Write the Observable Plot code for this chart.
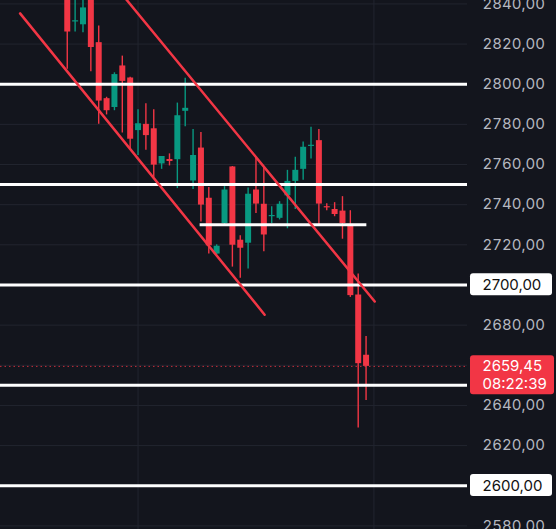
<!DOCTYPE html>
<html>
<head>
<meta charset="utf-8">
<script src="https://cdn.jsdelivr.net/npm/d3@7"></script>
<script src="https://cdn.jsdelivr.net/npm/@observablehq/plot@0.6"></script>
<style>
  html, body { margin: 0; padding: 0; background: #13151d; overflow: hidden; }
</style>
</head>
<body>
<script>
// ---- data (candle index 0..38) ----
const opens  = [2850, 2831, 2829.6, 2842, 2820.7, 2792.8, 2788.4, 2809.1, 2803.1, 2776.9, 2780, 2777.8, 2760.3, 2762.5, 2762.4, 2786.5, 2751.8, 2768.2, 2743.2, 2715.4, 2730.6, 2758.8, 2722.3, 2720.8, 2747.3, 2740.2, 2734, 2733.2, 2744.4, 2751.6, 2757.6, 2769, 2771.9, 2739, 2737.6, 2736.8, 2730.2, 2695, 2665];
const highs  = [2856, 2845, 2842.5, 2846, 2829, 2793.5, 2805.7, 2814, 2803.5, 2787.3, 2790.3, 2787.3, 2764, 2765.3, 2790.6, 2803, 2777.5, 2776, 2748.6, 2720, 2749, 2759, 2724.5, 2748.3, 2763.2, 2758.5, 2739, 2741.5, 2757.1, 2763.6, 2771.2, 2778.6, 2777.4, 2740.5, 2741, 2744, 2737, 2705.5, 2674.3];
const lows   = [2807.4, 2826, 2825.6, 2806.2, 2780, 2784.7, 2786.8, 2775.7, 2767.2, 2764.5, 2767.1, 2753.4, 2757.6, 2759.3, 2748, 2778.8, 2747.6, 2731.4, 2715.4, 2715, 2729.7, 2708.9, 2703.3, 2708, 2735.6, 2716.5, 2730.6, 2732.4, 2728, 2737.6, 2752.2, 2762.7, 2729.3, 2737, 2734, 2722.8, 2693.8, 2628.7, 2642.4];
const closes = [2826, 2831.5, 2838, 2818.3, 2791.6, 2786.8, 2804.8, 2801.4, 2772.6, 2780.3, 2774.4, 2759.7, 2764, 2761.5, 2784.3, 2788, 2764.5, 2739.8, 2719.5, 2719.3, 2747.3, 2719.8, 2718.3, 2745.2, 2740.3, 2724.9, 2734.5, 2740.2, 2751.6, 2757.1, 2768.6, 2769.5, 2740.3, 2738.6, 2735.1, 2730.6, 2694.7, 2660.8, 2659.45];

// tick labels on the price axis
const axisTicks = [2840, 2820, 2800, 2780, 2760, 2740, 2720, 2680, 2640, 2620, 2580];
const gridPrices = [2840, 2820, 2800, 2780, 2760, 2740, 2720, 2700, 2680, 2660, 2640, 2620, 2600, 2580];
const gridIndex = [9, 39];

// horizontal levels drawn by the user
const fullLevels = [2800, 2750, 2700, 2650, 2600];
const partialLevel = [{price: 2730, from: 16.9, to: 38.1}];
const boxedLevels = [2700, 2600];

// channel trend lines (index, price)
const lowerChannel = [{i: -6.0, p: 2835.3}, {i: 25.1, p: 2685.2}];
const upperChannel = [{i: 7.3, p: 2843.2}, {i: 39.1, p: 2691.8}];

const lastPrice = 2659.45;
const countdown = "08:22:39";

// ---- build ----
const candles = opens.map((o, i) => ({i, o, h: highs[i], l: lows[i], c: closes[i]}));
const UP = "#089981", DOWN = "#f23645";
const col = d => d.c >= d.o ? UP : DOWN;
const fmt = v => v.toFixed(2).replace(".", ",");

const W = 556, H = 529;
const chart = Plot.plot({
  width: W, height: H,
  marginLeft: 0, marginRight: 89, marginTop: 0, marginBottom: 0,
  x: {domain: [-8.49, 50.9], axis: null},
  y: {domain: [2578.2, 2841.7], axis: null},
  style: {background: "#13151d", color: "#b6b8c0", fontFamily: "Inter, 'Noto Sans', sans-serif", fontSize: "15px", overflow: "hidden"},
  marks: [
    Plot.ruleY(gridPrices, {stroke: "#22252f", strokeWidth: 1}),
    Plot.ruleX(gridIndex, {stroke: "#22252f", strokeWidth: 1}),
    Plot.ruleX(candles, {x: "i", y1: "l", y2: "h", stroke: col, strokeWidth: 1.4, clip: true}),
    Plot.ruleX(candles, {x: "i", y1: "o", y2: d => (Math.abs(d.c - d.o) < 0.6 ? d.o + (d.c >= d.o ? 0.6 : -0.6) : d.c), stroke: col, strokeWidth: 6, clip: true}),
    Plot.ruleY(fullLevels, {stroke: "#ffffff", strokeWidth: 3}),
    Plot.ruleY(partialLevel, {y: "price", x1: "from", x2: "to", stroke: "#ffffff", strokeWidth: 3}),
    Plot.ruleY([lastPrice], {stroke: "#f23645", strokeOpacity: 0.8, strokeWidth: 1, strokeDasharray: "1.5,3"}),
    Plot.line(lowerChannel, {x: "i", y: "p", stroke: "#f23645", strokeWidth: 2.5, clip: true}),
    Plot.line(upperChannel, {x: "i", y: "p", stroke: "#f23645", strokeWidth: 2.5, clip: true}),
    Plot.axisY(axisTicks, {anchor: "right", tickSize: 0, tickPadding: 15, tickFormat: fmt}),
    Plot.text(boxedLevels, {y: d => d, text: fmt, frameAnchor: "right", dx: 15, textAnchor: "start", fill: "#111111", className: "hl-white"}),
    Plot.text([lastPrice], {y: d => d, text: fmt, frameAnchor: "right", dx: 15, textAnchor: "start", fill: "#ffffff", className: "hl-red"}),
    Plot.text([lastPrice], {y: d => d, text: () => countdown, frameAnchor: "right", dx: 15, dy: 18, textAnchor: "start", fill: "#ffffff", className: "hl-red"})
  ]
});
document.body.appendChild(chart);

// label boxes drawn behind the highlighted price texts (positions taken from the rendered texts)
const svg = d3.select(chart);
const origin = chart.getBoundingClientRect();
const boxLeft = W - 89 + 3;
const firstHl = chart.querySelector("g.hl-white");
const boxLayer = svg.insert("g", () => firstHl);
svg.selectAll("g.hl-white text").each(function() {
  const r = this.getBoundingClientRect();
  const cy = r.top - origin.top + r.height / 2;
  boxLayer.append("rect")
    .attr("x", boxLeft).attr("y", cy - 11)
    .attr("width", 82).attr("height", 22).attr("rx", 3)
    .attr("fill", "#ffffff");
});
const reds = svg.selectAll("g.hl-red text").nodes();
if (reds.length) {
  let y0 = Infinity, y1 = -Infinity;
  reds.forEach(n => { const r = n.getBoundingClientRect(); y0 = Math.min(y0, r.top - origin.top); y1 = Math.max(y1, r.bottom - origin.top); });
  boxLayer.append("rect")
    .attr("x", boxLeft).attr("y", y0 - 1).attr("width", 84).attr("height", y1 - y0 + 2).attr("rx", 3)
    .attr("fill", "#f23645");
}
</script>
</body>
</html>
